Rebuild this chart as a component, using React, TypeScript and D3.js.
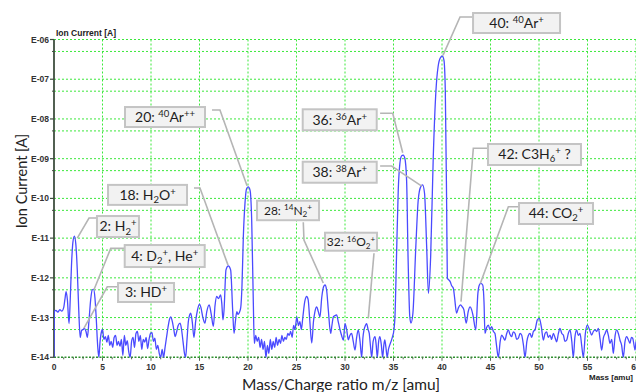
import React from "react";
import * as d3 from "d3";

// ---------- DATA ----------
// Spectrum: [mass (amu), log10 of ion current (A)]
const spectrumLow: [number, number][] = [
  [0.0, -14.0], [0.03, -12.85], [0.2, -12.82], [0.4, -12.86], [0.6, -12.8], [0.8, -12.84],
  [1.0, -12.75], [1.12, -12.55], [1.25, -12.35], [1.38, -12.55], [1.55, -13.15], [1.68, -12.5],
  [1.8, -11.7], [1.95, -11.1], [2.1, -10.95], [2.25, -11.15], [2.4, -11.8], [2.55, -12.8],
  [2.7, -13.5], [2.85, -13.32], [3.0, -13.3], [3.15, -13.27], [3.3, -13.35], [3.44, -13.5],
  [3.6, -13.1], [3.78, -12.55], [3.95, -12.3], [4.08, -12.29], [4.22, -12.5], [4.35, -13.0],
  [4.5, -13.7], [4.62, -14.0], [4.75, -13.6], [4.9, -13.35], [5.0, -13.3],
  [5.15, -13.55], [5.3, -13.48], [5.45, -13.62], [5.6, -13.45], [5.75, -13.7], [5.9, -13.6],
  [6.05, -13.75], [6.2, -13.5], [6.35, -13.45], [6.5, -13.7], [6.65, -13.6], [6.8, -13.72],
  [6.95, -13.55], [7.1, -13.95], [7.25, -13.45], [7.4, -13.7], [7.55, -13.58], [7.7, -13.85],
  [7.85, -14.0], [8.0, -13.6], [8.15, -13.5], [8.3, -13.75], [8.45, -13.4], [8.6, -13.35],
  [8.75, -13.6], [8.9, -13.45], [9.05, -13.8], [9.2, -13.55], [9.35, -13.62], [9.5, -13.5],
  [9.65, -13.78], [9.8, -13.55], [9.95, -13.4], [10.1, -13.38], [10.25, -13.6], [10.4, -13.52],
  [10.55, -13.8], [10.7, -13.7], [10.85, -13.9], [11.0, -14.0], [11.15, -13.8], [11.3, -14.0],
  [11.45, -13.75], [11.6, -13.5], [11.75, -13.25], [11.9, -13.05], [12.03, -12.98], [12.2, -13.1],
  [12.35, -13.3], [12.5, -13.48], [12.65, -13.35], [12.8, -13.2], [13.0, -13.14], [13.15, -13.3],
  [13.3, -13.6], [13.45, -13.9], [13.57, -14.0], [13.7, -13.6], [13.85, -13.1], [14.0, -12.92],
  [14.1, -12.89], [14.25, -13.1], [14.43, -13.5], [14.6, -13.1], [14.8, -12.8], [15.0, -12.66],
  [15.15, -12.75], [15.35, -13.0], [15.56, -13.14], [15.75, -12.85], [16.0, -12.68], [16.2, -12.9],
  [16.43, -13.22], [16.6, -12.7], [16.77, -12.47], [16.95, -12.52], [17.18, -12.43], [17.3, -12.65],
  [17.42, -13.06], [17.53, -12.81], [17.73, -11.8], [17.97, -11.7], [18.21, -11.8], [18.42, -12.81],
  [18.56, -13.4], [18.7, -13.1], [18.85, -12.85], [18.97, -12.92], [19.1, -12.88], [19.25, -12.75],
  [19.38, -12.2], [19.52, -10.96], [19.69, -10.12], [19.86, -9.75], [20.03, -9.71], [20.21, -9.79],
  [20.38, -10.54], [20.55, -12.64], [20.65, -13.65],
];

const spectrumMid: [number, number][] = [
  [20.8, -13.45], [20.95, -13.6], [21.1, -13.5], [21.25, -13.75], [21.4, -13.55], [21.55, -13.8],
  [21.7, -13.6], [21.85, -14.0], [22.0, -13.7], [22.15, -13.9], [22.3, -13.55], [22.45, -13.8],
  [22.6, -13.6], [22.75, -13.75], [22.9, -13.5], [23.05, -13.7], [23.2, -13.55], [23.35, -13.65],
  [23.5, -13.45], [23.65, -13.6], [23.8, -13.5], [23.95, -13.55], [24.1, -13.4], [24.25, -13.45],
  [24.4, -13.35], [24.55, -13.5], [24.7, -13.2], [24.85, -13.3], [25.03, -12.98], [25.2, -13.2],
  [25.35, -13.1], [25.5, -13.3], [25.65, -13.0], [25.85, -12.6], [26.05, -12.47], [26.2, -12.55],
  [26.35, -13.0], [26.57, -13.64], [26.75, -13.1], [26.9, -12.85], [27.08, -12.73], [27.25, -12.85],
  [27.42, -12.98], [27.6, -12.5], [27.8, -12.22], [27.94, -12.18], [28.1, -12.3], [28.28, -12.81],
  [28.52, -13.4], [28.65, -13.2], [28.8, -12.98], [28.97, -12.95], [29.14, -12.93], [29.3, -13.1],
  [29.48, -13.3], [29.65, -13.45], [29.83, -13.57], [30.0, -13.15], [30.17, -13.3], [30.34, -13.56],
  [30.5, -13.45], [30.68, -13.4], [30.85, -13.6], [31.03, -13.82], [31.2, -13.5], [31.37, -13.31],
  [31.55, -13.6], [31.72, -14.0], [31.85, -13.5], [31.96, -13.31], [32.1, -13.2], [32.23, -13.15],
  [32.38, -13.3], [32.5, -13.4], [32.62, -13.7], [32.75, -14.0], [32.9, -13.6], [33.1, -13.48],
  [33.22, -13.7], [33.33, -14.0], [33.47, -13.6], [33.6, -13.48], [33.75, -13.7], [33.88, -14.0],
  [34.0, -13.7], [34.1, -13.56], [34.22, -13.75], [34.35, -14.0], [34.48, -13.8], [34.6, -13.7],
  [34.75, -13.6], [34.9, -13.48], [35.05, -13.3],
];

const spectrumArgon: [number, number][] = [
  [35.15, -12.98], [35.31, -11.47], [35.49, -9.79], [35.66, -9.12], [35.83, -8.93], [36.0, -8.91],
  [36.17, -8.99], [36.35, -9.54], [36.5, -11.47], [36.68, -12.98], [36.8, -13.14], [37.0, -12.89],
  [37.3, -11.22], [37.55, -10.04], [37.8, -9.71], [38.0, -9.66], [38.2, -9.87], [38.42, -11.22],
  [38.6, -12.39], [38.83, -11.47], [39.1, -8.95], [39.38, -7.27], [39.6, -6.68], [39.86, -6.45],
  [40.03, -6.42], [40.2, -6.52], [40.34, -7.27], [40.48, -10.21], [40.55, -12.01], [40.7, -12.05],
  [40.85, -12.1], [41.0, -12.2], [41.17, -12.26], [41.3, -12.5], [41.5, -12.89], [41.7, -12.75],
  [41.9, -12.68], [42.05, -12.72], [42.25, -12.8], [42.5, -13.14], [42.7, -12.85], [42.9, -12.73],
  [43.05, -12.8], [43.2, -12.95], [43.48, -13.31], [43.7, -12.39], [43.85, -12.18], [44.0, -12.14],
  [44.2, -12.18], [44.33, -12.6], [44.43, -13.4],
];

const spectrumHigh: [number, number][] = [
  [44.6, -13.25], [44.78, -13.19], [44.95, -13.3], [45.12, -13.23], [45.3, -13.35], [45.46, -13.4],
  [45.62, -13.7], [45.81, -14.0], [46.0, -13.6], [46.15, -13.44], [46.32, -13.5], [46.49, -13.57],
  [46.65, -13.42], [46.84, -13.31], [47.0, -13.42], [47.18, -13.48], [47.35, -13.36], [47.53, -13.4],
  [47.7, -13.55], [47.87, -13.52], [48.05, -13.4], [48.21, -13.44], [48.4, -13.7], [48.56, -14.0],
  [48.75, -13.6], [48.9, -13.45], [49.07, -13.4], [49.25, -13.5], [49.42, -13.35], [49.59, -13.31],
  [49.83, -13.06], [50.04, -13.02], [50.24, -13.23], [50.45, -13.57], [50.62, -13.4], [50.79, -13.36],
  [50.95, -13.5], [51.14, -13.44], [51.3, -13.55], [51.48, -13.4], [51.65, -13.5], [51.82, -13.61],
  [52.0, -13.4], [52.16, -13.27], [52.35, -13.4], [52.51, -13.44], [52.68, -13.6], [52.85, -13.57],
  [53.02, -13.4], [53.2, -13.31], [53.38, -13.6], [53.54, -14.0], [53.7, -13.5], [53.88, -13.31],
  [54.05, -13.45], [54.23, -13.4], [54.4, -13.7], [54.57, -14.0], [54.78, -13.4], [54.98, -13.19],
  [55.2, -13.3], [55.43, -13.44], [55.6, -13.35], [55.77, -13.31], [55.95, -13.35], [56.12, -13.27],
  [56.3, -13.55], [56.46, -13.82], [56.65, -13.5], [56.82, -13.4], [56.98, -13.31], [57.15, -13.45],
  [57.32, -13.65], [57.5, -13.55], [57.66, -13.9], [57.85, -13.45], [58.0, -13.31], [58.18, -13.4],
  [58.35, -13.57], [58.52, -13.7], [58.69, -14.0], [58.87, -13.6], [59.04, -13.48], [59.2, -13.55],
  [59.38, -13.65], [59.52, -13.5], [59.66, -13.52], [59.8, -13.7], [59.9, -13.82], [60.0, -13.6],
];

const xTickValues = [0, 5, 10, 15, 20, 25, 30, 35, 40, 45, 50, 55, 60];
const yDecades = [-6, -7, -8, -9, -10, -11, -12, -13, -14];
const yTickLabels = ["E-06", "E-07", "E-08", "E-09", "E-10", "E-11", "E-12", "E-13", "E-14"];

type Part = [string, ("sup" | "sub")?];
// Peak annotations: label text parts
const annotationLabels: Part[][] = [
  [["40: "], ["40", "sup"], ["Ar"], ["+", "sup"]],
  [["20: "], ["40", "sup"], ["Ar"], ["++", "sup"]],
  [["18: H"], ["2", "sub"], ["O"], ["+", "sup"]],
  [["2: H"], ["2", "sub"], ["+", "sup"]],
  [["4: D"], ["2", "sub"], ["+", "sup"], [", He"], ["+", "sup"]],
  [["3: HD"], ["+", "sup"]],
  [["28: "], ["14", "sup"], ["N"], ["2", "sub"], ["+", "sup"]],
  [["32: "], ["16", "sup"], ["O"], ["2", "sub"], ["+", "sup"]],
  [["36: "], ["36", "sup"], ["Ar"], ["+", "sup"]],
  [["38: "], ["38", "sup"], ["Ar"], ["+", "sup"]],
  [["42: C3H"], ["6", "sub"], ["+", "sup"], [" ?"]],
  [["44: CO"], ["2", "sub"], ["+", "sup"]],
];

// ---------- LAYOUT (in data units: [mass, log10 current]) ----------
const annotationLayout = [
  { box: [43.2, -5.333], w: 87, h: 20, fs: 14, leader: [[43.2, -5.434], [41.86, -5.434], [40.1, -6.4]] },
  { box: [7.32, -7.7], w: 80, h: 20, fs: 14, leader: [[16.29, -7.775], [17.11, -7.775], [19.9, -9.68]] },
  { box: [5.57, -9.66], w: 79, h: 20, fs: 14, leader: [[14.43, -9.739], [15.05, -9.739], [17.94, -11.68]] },
  { box: [4.43, -10.444], w: 42, h: 21, fs: 14, leader: [[4.43, -10.494], [3.61, -10.494], [2.4, -11.0]] },
  { box: [7.29, -11.174], w: 80, h: 22, fs: 14, leader: [[7.29, -11.257], [5.85, -11.257], [4.12, -12.3]] },
  { box: [6.6, -12.13], w: 56, h: 19, fs: 14, leader: [[6.6, -12.224], [5.49, -12.224], [3.09, -13.264]] },
  { box: [20.93, -10.058], w: 62, h: 19.5, fs: 12, leader: [[25.7, -10.6], [25.77, -11.048], [27.76, -12.13]] },
  { box: [27.94, -10.864], w: 52, h: 18, fs: 12, leader: [[32.99, -11.38], [32.4, -13.02]] },
  { box: [25.64, -7.757], w: 74, h: 21, fs: 14, leader: [[33.62, -7.858], [34.92, -7.858], [35.95, -8.85]] },
  { box: [25.64, -9.077], w: 74, h: 21, fs: 14, leader: [[33.62, -9.185], [34.81, -9.185], [37.91, -9.69]] },
  { box: [44.74, -8.631], w: 93, h: 21, fs: 14, leader: [[44.74, -8.739], [43.23, -8.739], [41.96, -12.6]] },
  { box: [47.94, -10.116], w: 74, h: 21, fs: 14, leader: [[47.94, -10.21], [46.84, -10.21], [43.95, -12.14]] },
];

const W = 636;
const H = 392;
const PX0 = 54, PX1 = 636, PY0 = 39.5, PY1 = 357.3;

const LABEL_FONT = "Lato, 'Open Sans', 'Noto Sans', sans-serif";
const TICK_FONT = "'Liberation Sans', Arial, sans-serif";

function Label({ parts, cx, cy, fs }: { parts: Part[]; cx: number; cy: number; fs: number }) {
  let prev = 0;
  return (
    <text x={cx} y={cy} textAnchor="middle" fontFamily={LABEL_FONT} fontSize={fs} fill="#1e1e1e">
      {parts.map(([t, k], i) => {
        const target = k === "sup" ? -fs * 0.36 : k === "sub" ? fs * 0.22 : 0;
        const dy = target - prev;
        prev = target;
        return (
          <tspan key={i} dy={dy} fontSize={k ? fs * 0.68 : fs}>
            {t}
          </tspan>
        );
      })}
    </text>
  );
}

export default function App() {
  const x = d3.scaleLinear().domain([0, 60]).range([PX0, PX1]);
  const y = d3.scaleLog().domain([1e-14, 1e-6]).range([PY1, PY0]);
  const ye = (e: number) => y(Math.pow(10, e));

  const spectrum = [...spectrumLow, ...spectrumMid, ...spectrumArgon, ...spectrumHigh];
  const line = d3
    .line<[number, number]>()
    .x((d) => x(d[0]))
    .y((d) => ye(Math.max(-14, d[1])))
    .curve(d3.curveMonotoneX);

  const leaderLine = d3
    .line<number[]>()
    .x((d) => x(d[0]))
    .y((d) => ye(d[1]));

  const hGrid: number[] = [];
  for (let e = -14; e <= -6; e++) {
    if (e > -14) hGrid.push(Math.pow(10, e));
    if (e < -6) hGrid.push(5 * Math.pow(10, e));
  }
  const vGrid = xTickValues.filter((v) => v > 0);
  const minorX = d3.range(1, 61);

  const gridColor = "#3be83b";

  return (
    <svg
      width={W}
      height={H}
      style={{ position: "absolute", left: 0, top: 0, background: "#fff" }}
    >
      <defs>
        <clipPath id="plotClip">
          <rect x={PX0} y={PY0 - 2} width={PX1 - PX0} height={PY1 - PY0 + 2.5} />
        </clipPath>
      </defs>
      <rect x={0} y={0} width={W} height={H} fill="#fff" />

      {/* grid */}
      {hGrid.map((v, i) => (
        <line key={"h" + i} x1={PX0} x2={PX1} y1={y(v)} y2={y(v)} stroke={gridColor} strokeWidth={1} strokeDasharray="2,2" />
      ))}
      <line x1={PX0} x2={PX1} y1={PY0} y2={PY0} stroke={gridColor} strokeWidth={1} strokeDasharray="2,2" />
      {vGrid.map((v) => (
        <line key={"v" + v} x1={x(v)} x2={x(v)} y1={PY0} y2={PY1} stroke={gridColor} strokeWidth={1} strokeDasharray="2,2" />
      ))}

      {/* bottom axis */}
      <line x1={PX0} x2={PX1} y1={PY1} y2={PY1} stroke="#2f8f2f" strokeWidth={1.5} strokeDasharray="2,1.5" />
      {minorX.map((v) => (
        <line key={"mx" + v} x1={x(v)} x2={x(v)} y1={PY1} y2={PY1 + (v % 5 === 0 ? 3.5 : 2)} stroke="#556655" strokeWidth={1} />
      ))}
      {xTickValues.map((v) => (
        <text key={"xt" + v} x={x(v)} y={PY1 + 13} textAnchor="middle" fontFamily={TICK_FONT} fontWeight="bold" fontSize={8.5} fill="#333">
          {v}
        </text>
      ))}

      {/* left axis */}
      <line x1={PX0} x2={PX0} y1={PY0} y2={PY1} stroke="#3f4f3f" strokeWidth={1.8} />
      {yDecades.map((e, i) => (
        <g key={"yt" + e}>
          <line x1={PX0 - 4} x2={PX0} y1={ye(e)} y2={ye(e)} stroke="#3f4f3f" strokeWidth={1.2} />
          <text x={PX0 - 5} y={ye(e) + 3} textAnchor="end" fontFamily={TICK_FONT} fontWeight="bold" fontSize={8.5} fill="#333">
            {yTickLabels[i]}
          </text>
        </g>
      ))}
      {yDecades.slice(1).map((e) => (
        <line key={"ym" + e} x1={PX0 - 2} x2={PX0} y1={y(5 * Math.pow(10, e))} y2={y(5 * Math.pow(10, e))} stroke="#3f4f3f" strokeWidth={1} />
      ))}

      {/* small axis captions */}
      <text x={56} y={36} fontFamily={TICK_FONT} fontWeight="bold" fontSize={8.5} fill="#222">
        Ion Current [A]
      </text>
      <text x={633} y={380} textAnchor="end" fontFamily={TICK_FONT} fontWeight="bold" fontSize={8} fill="#222">
        Mass [amu]
      </text>

      {/* spectrum */}
      <path d={line(spectrum) || ""} fill="none" stroke="#4a4aff" strokeWidth={1.3} clipPath="url(#plotClip)" />

      {/* annotations */}
      {annotationLayout.map((a, i) => {
        const bx = x(a.box[0]);
        const by = ye(a.box[1]);
        return (
          <g key={"an" + i}>
            <path d={leaderLine(a.leader) || ""} fill="none" stroke="#b5b5b5" strokeWidth={1.6} />
            <rect x={bx} y={by} width={a.w} height={a.h} fill="#f2f2f2" stroke="#c4c4c4" strokeWidth={2} />
            <Label parts={annotationLabels[i]} cx={bx + a.w / 2} cy={by + a.h / 2 + a.fs * 0.35} fs={a.fs} />
          </g>
        );
      })}

      {/* axis titles */}
      <text
        transform={`translate(26.5,${181}) rotate(-90)`}
        textAnchor="middle"
        fontFamily={LABEL_FONT}
        fontSize={14.5}
        fill="#222"
      >
        Ion Current [A]
      </text>
      <text x={341} y={390} textAnchor="middle" fontFamily={LABEL_FONT} fontSize={15.5} fill="#222">
        Mass/Charge ratio m/z [amu]
      </text>
    </svg>
  );
}
